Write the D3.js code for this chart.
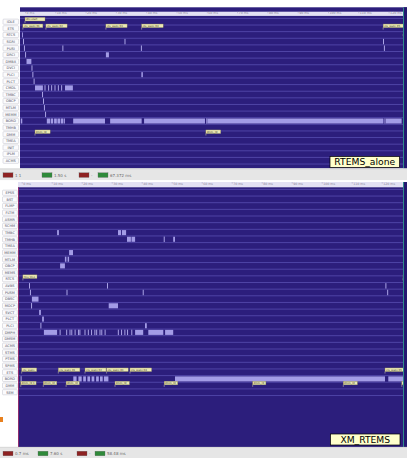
<!DOCTYPE html>
<html>
<head>
<meta charset="utf-8">
<script src="https://cdn.jsdelivr.net/npm/d3@7/dist/d3.min.js"></script>
<style>
  body { margin: 0; background: #ffffff; }
  svg { display: block; }
  text { font-family: "DejaVu Sans", Arial, sans-serif; }
</style>
</head>
<body>
<svg id="chart" width="407" height="458"></svg>
<script>
// ---- Trace data: time in ms ----
const axisTicks = [0, 10, 20, 30, 40, 50, 60, 70, 80, 90, 100, 110, 120];

// Panel 1: RTEMS running alone
const topTasks = ["IDLE","ETS","RTCS","SGRI","PUSI","DRCI","DMBX","DVCI","PLCI","PLCT","CMDL",
                  "TMBC","OBCP","MTLM","MEMM","BORD","TMHB","DMM","TMEA","INIT","IPLM","ACMS"];
const topBars = [
  ["RTCS", -1.0, -0.7],
  ["DRCI", 26.7, 27.7],
  ["DMBX", 0.5, 2.1],
  ["PLCI", 38.4, 38.9],
  ["CMDL", 3.3, 5.9], ["CMDL", 13.2, 15.8],
  ["BORD", -1.4, -0.9], ["BORD", 7.2, 8.3], ["BORD", 8.5, 9.3], ["BORD", 9.6, 10.5],
  ["BORD", 10.7, 11.6], ["BORD", 11.8, 12.7], ["BORD", 12.9, 13.2], ["BORD", 15.9, 26.4],
  ["BORD", 28.1, 38.5], ["BORD", 39.3, 59.4], ["BORD", 60.2, 118.3], ["BORD", 119.1, 124.3]
];
const topTicks = [
  ["SGRI", -0.5], ["SGRI", 33.0], ["SGRI", 118.3],
  ["PUSI", -0.2], ["PUSI", 12.5], ["PUSI", 38.4], ["PUSI", 118.6],
  ["DRCI", 0.2], ["DVCI", 2.3], ["PLCI", 2.6], ["PLCT", 3.0],
  ["CMDL", 6.6], ["CMDL", 7.8], ["CMDL", 8.8], ["CMDL", 9.9], ["CMDL", 11.0], ["CMDL", 12.1],
  ["TMBC", 5.8], ["OBCP", 6.1], ["MTLM", 6.4], ["MEMM", 6.8],
  ["BORD", 60.0], ["BORD", 118.8]
];
const topNotes = [
  ["IDLE", 0.0, 6.6, "idle start"],
  ["ETS", -0.7, 5.9, "ets_wake 01"], ["ETS", 6.9, 13.9, "ets_wake 02"],
  ["ETS", 26.7, 33.7, "ets_wake 03"], ["ETS", 38.5, 45.6, "ets_wake 04"],
  ["ETS", 118.2, 125.4, "ets_wake 05"],
  ["RTCS", 124.8, 127.2, ""],
  ["DMM", 3.3, 8.3, "dmm_rd"], ["DMM", 59.7, 64.6, "dmm_rd"]
];

// Panel 2: RTEMS as an XtratuM partition
const bottomTasks = ["EPSS","BST","FLMP","FLTM","ASMR","SCHM","TMBC","TMHB","TMEA","MEMM","MTLM",
                     "OBCP","MEMS","RTCS","AVBS","PUSM","DBSC","MOCP","SVCT","PLCT","PLCI","DMPH",
                     "DMSM","ACMS","STMS","PTMS","SPMS","ETS","BORD","DMM","SEM"];
const bottomBars = [
  ["TMBC", 11.8, 12.4], ["TMBC", 32.1, 33.1], ["TMBC", 33.4, 34.8],
  ["TMHB", 35.1, 36.4], ["TMHB", 36.6, 37.8], ["TMHB", 50.5, 51.1],
  ["MEMM", 15.8, 17.1],
  ["MTLM", 14.4, 14.9], ["MTLM", 15.3, 15.8],
  ["OBCP", 12.8, 14.4],
  ["DBSC", 3.4, 5.6],
  ["MOCP", 29.0, 32.1],
  ["SVCT", 5.8, 6.4],
  ["PLCT", 6.8, 7.4],
  ["PLCI", 41.1, 41.7],
  ["DMPH", 7.4, 11.8], ["DMPH", 37.8, 40.5], ["DMPH", 42.2, 47.2], ["DMPH", 47.8, 50.5],
  ["BORD", 17.2, 18.3], ["BORD", 18.9, 20.0], ["BORD", 20.5, 21.4], ["BORD", 21.9, 22.8],
  ["BORD", 23.3, 24.2], ["BORD", 24.8, 25.7], ["BORD", 26.1, 27.0], ["BORD", 27.4, 28.9],
  ["BORD", 51.1, 121.1], ["BORD", 122.2, 127.2]
];
const bottomTicks = [
  ["TMHB", 47.5],
  ["AVBS", 2.6], ["AVBS", 28.6], ["AVBS", 121.4],
  ["PUSM", 2.9], ["PUSM", 15.1], ["PUSM", 40.5], ["PUSM", 122.0],
  ["MOCP", 3.3],
  ["PLCI", 6.4],
  ["DMPH", 12.8], ["DMPH", 15.0], ["DMPH", 16.1], ["DMPH", 16.7], ["DMPH", 17.8], ["DMPH", 18.9],
  ["DMPH", 19.4], ["DMPH", 21.1], ["DMPH", 22.2], ["DMPH", 23.3], ["DMPH", 24.4], ["DMPH", 25.0],
  ["DMPH", 26.1], ["DMPH", 26.7], ["DMPH", 27.8], ["DMPH", 32.2], ["DMPH", 33.3], ["DMPH", 34.4],
  ["DMPH", 35.3], ["DMPH", 36.7],
  ["BORD", -0.2]
];
const bottomNotes = [
  ["RTCS", 0.4, 5.1, "rtcs_tmo"], ["RTCS", 127.1, 129.4, ""],
  ["ETS", 0.0, 5.0, "ets_wake"], ["ETS", 12.2, 19.4, "ets_wake 01"], ["ETS", 21.1, 28.1, "ets_wake 02"],
  ["ETS", 28.3, 35.5, "ets_wake 03"], ["ETS", 36.1, 43.3, "ets_wake 04"], ["ETS", 121.1, 128.3, "ets_wake 05"],
  ["DMM", -0.3, 4.8, "dmm_rd 1"], ["DMM", 7.2, 11.7, "dmm_rd"], ["DMM", 14.8, 19.2, "dmm_rd"],
  ["DMM", 31.1, 35.9, "dmm_rd"], ["DMM", 47.5, 52.0, "dmm_rd"], ["DMM", 77.0, 81.4, "dmm_rd"],
  ["DMM", 107.2, 111.9, "dmm_rd"], ["DMM", 126.7, 129.4, ""]
];

// ---- Drawing ----
const svg = d3.select("#chart");
const C = {
  navy: "#2c1e7c", grid: "#5e55b8", bar: "#a39ce6", tick: "#b9b3f2",
  noteFill: "#ece9b4", noteStroke: "#8c8855", ruler: "#e3e1f3", teal: "#2f8c88"
};

svg.append("rect").attr("width", 407).attr("height", 458).attr("fill", "#ffffff");

function statusBar(y, items) {
  const g = svg.append("g");
  g.append("rect").attr("x", 0).attr("y", y).attr("width", 407).attr("height", 11.5).attr("fill", "#e6e6e6");
  g.append("line").attr("x1", 0).attr("x2", 407).attr("y1", y + 0.25).attr("y2", y + 0.25)
    .attr("stroke", "#c6c6c6").attr("stroke-width", 0.5);
  items.forEach(it => {
    g.append("rect").attr("x", it.x).attr("y", y + 4.2).attr("width", 10).attr("height", 4.6)
      .attr("fill", it.c).attr("stroke", "#666").attr("stroke-width", 0.3);
    if (it.t) g.append("text").attr("x", it.x + 12).attr("y", y + 8).attr("font-size", 4)
      .attr("fill", "#666").text(it.t);
  });
}

function panel(cfg) {
  const g = svg.append("g");
  const x = d3.scaleLinear().domain([0, 120]).range([cfg.x0t, cfg.x0t + cfg.pxPerMs * 120]);
  const y = d3.scaleBand().domain(cfg.tasks).range([cfg.rowTop, cfg.rowTop + cfg.tasks.length * cfg.step]);
  const left = cfg.left, right = 407;

  // background
  g.append("rect").attr("x", left).attr("y", cfg.top).attr("width", right - left)
    .attr("height", cfg.bottom - cfg.top).attr("fill", C.navy);

  // time ruler
  g.append("rect").attr("x", left).attr("y", cfg.rulerY).attr("width", 403 - left)
    .attr("height", cfg.rulerH).attr("fill", C.ruler);
  const axis = d3.axisBottom(x).tickValues(axisTicks).tickSize(1.6).tickFormat(d => d + " ms");
  const ax = g.append("g").attr("transform", `translate(0,${cfg.rulerY})`).call(axis);
  ax.select(".domain").remove();
  ax.selectAll(".tick line").attr("stroke", "#8f8aa8").attr("stroke-width", 0.4);
  ax.selectAll(".tick text").attr("font-size", 3.2).attr("fill", "#8a8898")
    .attr("text-anchor", "start").attr("dx", 1).attr("dy", 0).attr("y", cfg.rulerH * 0.55)
    .attr("font-family", "DejaVu Sans");

  // row separators
  const bounds = cfg.tasks.map(t => y(t)).concat([y.range()[1]]);
  g.selectAll("line.row").data(bounds).join("line").attr("class", "row")
    .attr("x1", left).attr("x2", 403).attr("y1", d => d).attr("y2", d => d)
    .attr("stroke", C.grid).attr("stroke-width", 0.7);

  // task labels
  const lab = g.selectAll("g.lab").data(cfg.tasks).join("g").attr("class", "lab")
    .attr("transform", t => `translate(${cfg.labX},${y(t) + y.bandwidth() / 2})`);
  lab.append("rect").attr("x", 0).attr("y", -2.6).attr("width", cfg.labW).attr("height", 5.2)
    .attr("rx", 0.8).attr("fill", "#fbfbfd").attr("stroke", "#b4b4c0").attr("stroke-width", 0.4);
  lab.append("text").attr("x", cfg.labW / 2).attr("y", 1.3).attr("text-anchor", "middle")
    .attr("font-size", 3.5).attr("fill", "#4c4c5c").text(t => t);

  const clip = "clip" + cfg.id;
  svg.append("clipPath").attr("id", clip).append("rect")
    .attr("x", left).attr("y", cfg.top).attr("width", right - left).attr("height", cfg.bottom - cfg.top);
  const plot = g.append("g").attr("clip-path", `url(#${clip})`);

  // execution intervals
  plot.selectAll("rect.bar").data(cfg.bars).join("rect").attr("class", "bar")
    .attr("x", d => x(d[1])).attr("width", d => Math.max(0.8, x(d[2]) - x(d[1])))
    .attr("y", d => y(d[0]) + 0.8).attr("height", y.bandwidth() - 1.6)
    .attr("fill", C.bar);

  // instantaneous events
  plot.selectAll("rect.tk").data(cfg.ticks).join("rect").attr("class", "tk")
    .attr("x", d => x(d[1]) - 0.45).attr("width", 0.9)
    .attr("y", d => y(d[0]) + 0.6).attr("height", y.bandwidth() - 1.2)
    .attr("fill", C.tick);

  // event annotations
  const nt = plot.selectAll("g.note").data(cfg.notes).join("g").attr("class", "note");
  nt.append("line").attr("x1", d => x(d[1])).attr("x2", d => x(d[1]))
    .attr("y1", d => y(d[0]) + 2.4).attr("y2", d => y(d[0]) + 4.6)
    .attr("stroke", "#d8d4b0").attr("stroke-width", 0.5);
  nt.append("rect").attr("x", d => x(d[1])).attr("width", d => x(d[2]) - x(d[1]))
    .attr("y", d => y(d[0]) - 1).attr("height", 3.6)
    .attr("fill", C.noteFill).attr("stroke", C.noteStroke).attr("stroke-width", 0.35);
  nt.filter(d => d[3]).append("text").attr("x", d => x(d[1]) + 0.8).attr("y", d => y(d[0]) + 1.7)
    .attr("font-size", 2.6).attr("fill", "#3a3a2a").text(d => d[3]);

  // end-of-trace marker
  g.append("rect").attr("x", 404).attr("y", cfg.top).attr("width", 3).attr("height", cfg.bottom - cfg.top)
    .attr("fill", "#241870");
  g.append("line").attr("x1", 403.5).attr("x2", 403.5).attr("y1", cfg.top).attr("y2", cfg.bottom)
    .attr("stroke", C.teal).attr("stroke-width", 1);

  // scenario tag
  g.append("rect").attr("x", cfg.tag.x).attr("y", cfg.tag.y).attr("width", 69.5).attr("height", 11)
    .attr("fill", "#ffffcc").attr("stroke", "#000").attr("stroke-width", 0.7);
  g.append("text").attr("x", cfg.tag.x + 34.75).attr("y", cfg.tag.y + 8.6).attr("text-anchor", "middle")
    .attr("font-family", "Liberation Sans, Arial, sans-serif").attr("font-size", 9.2)
    .attr("fill", "#000").text(cfg.tag.text);

  // scroll thumb
  g.append("rect").attr("x", cfg.left + 2).attr("y", cfg.bottom + 0.3).attr("width", 9).attr("height", 2)
    .attr("fill", "#9fb2de");
}

panel({
  id: "a", tasks: topTasks, bars: topBars, ticks: topTicks, notes: topNotes,
  left: 20, top: 7.3, bottom: 168.3, rulerY: 11.7, rulerH: 4.2,
  rowTop: 18.4, step: 6.62, x0t: 25, pxPerMs: 3.03, labX: 3, labW: 15.6,
  tag: { x: 330, y: 156.5, text: "RTEMS_alone" }
});
statusBar(168.6, [
  { x: 3, c: "#8e2222", t: "1 1" }, { x: 42, c: "#2f8a3a", t: "1.50 s" },
  { x: 79, c: "#8e2222", t: "-" }, { x: 98, c: "#2f8a3a", t: "67.372 ms" }
]);

panel({
  id: "b", tasks: bottomTasks, bars: bottomBars, ticks: bottomTicks, notes: bottomNotes,
  left: 18, top: 182, bottom: 447, rulerY: 182, rulerH: 5.3,
  rowTop: 189.4, step: 6.65, x0t: 21.7, pxPerMs: 3.0, labX: 2.5, labW: 14.8,
  tag: { x: 330.5, y: 434, text: "XM_RTEMS" }
});
// left border of the partition panel
svg.append("line").attr("x1", 18.5).attr("x2", 18.5).attr("y1", 187.3).attr("y2", 447)
  .attr("stroke", "#a8306c").attr("stroke-width", 0.8);
statusBar(447, [
  { x: 3, c: "#8e2222", t: "0.7 ms" }, { x: 38, c: "#2f8a3a", t: "7.60 s" },
  { x: 77, c: "#8e2222", t: "-" }, { x: 95, c: "#2f8a3a", t: "58.48 ms" }
]);

// window edge marker
svg.append("rect").attr("x", 0).attr("y", 417).attr("width", 3).attr("height", 5).attr("fill", "#e8801e");
</script>
</body>
</html>
